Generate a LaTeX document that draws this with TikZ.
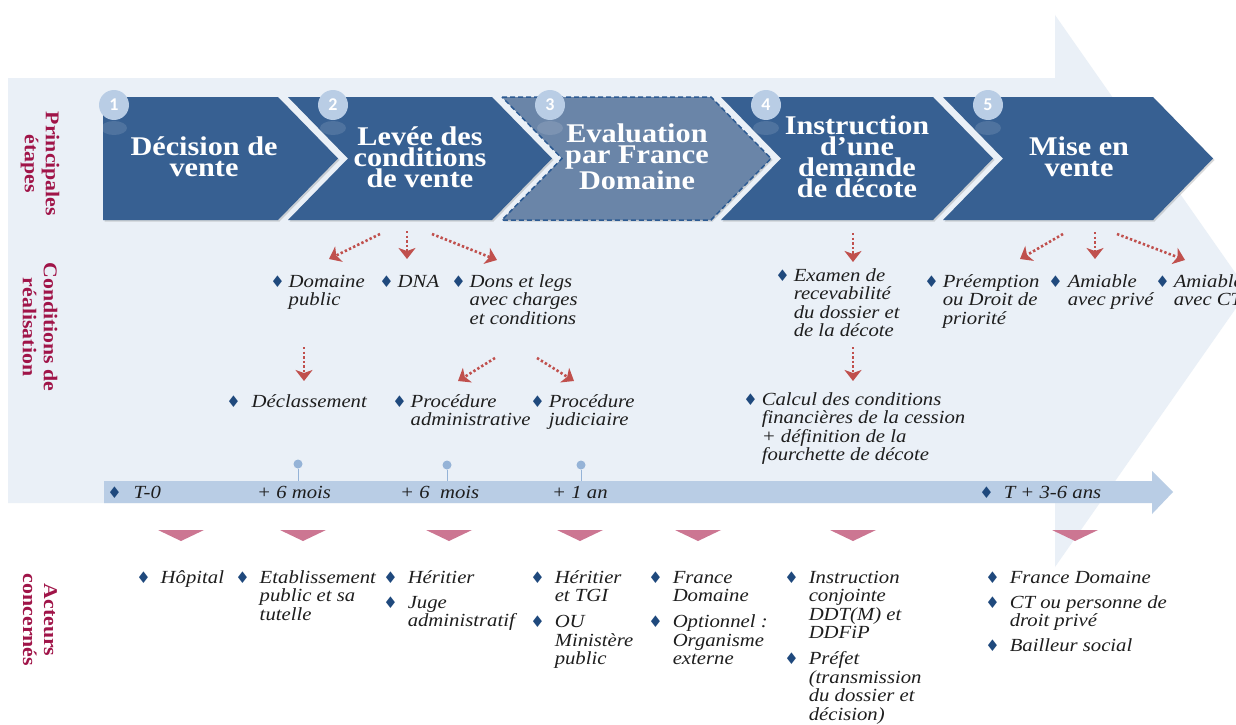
\documentclass[tikz,border=0pt]{standalone}
\usepackage{fontspec}
\setmainfont{Liberation Serif}[FakeStretch=1.12]
\newfontfamily\symfont{DejaVu Sans}
\newfontfamily\numfont{Carlito}
\usetikzlibrary{arrows.meta,shadows}

\definecolor{bgblue}{HTML}{EAF0F7}
\definecolor{chevblue}{HTML}{376092}
\definecolor{chevlight}{HTML}{6A85A8}
\definecolor{chevedge}{HTML}{2C5A92}
\definecolor{circblue}{HTML}{B9CDE5}
\definecolor{tlblue}{HTML}{B9CDE5}
\definecolor{pinblue}{HTML}{95B3D7}
\definecolor{arrred}{HTML}{C0504D}
\definecolor{actpink}{HTML}{CC7692}
\definecolor{lblred}{HTML}{A01448}
\definecolor{dmdblue}{HTML}{1F497D}
\definecolor{txtdark}{HTML}{1E1E1E}

\newcommand\chevfont{\fontsize{27}{21}\selectfont\bfseries}
\newcommand\txtfont{\fontsize{18.5}{18.5}\selectfont\itshape}
\newcommand\sidefont{\fontsize{19.5}{21}\selectfont\bfseries}
\newcommand\numstyle{\numfont\bfseries\fontsize{18}{18}\selectfont}
\newcommand\dmd{{\symfont\upshape\fontsize{16}{16}\selectfont\color{dmdblue}\char"2666}}
\newcommand\blist[2]{\begin{tabular}[t]{@{}l@{\hspace{#1}}l@{}}#2\end{tabular}}

\begin{document}
\begin{tikzpicture}[x=1pt,y=-1pt,
  chev/.style={fill=chevblue, drop shadow={shadow xshift=1.5pt, shadow yshift=-1.5pt, opacity=.3}},
  chevtext/.style={text=white, font=\chevfont, align=center, inner sep=0pt},
  stepnum/.style={circle, fill=circblue, text=white, font=\numstyle, minimum size=30pt, inner sep=0pt},
  sidelabel/.style={rotate=-90, align=center, font=\sidefont, text=lblred, inner sep=0pt},
  bul/.style={anchor=base west, inner sep=0pt, font=\txtfont, text=txtdark},
  condarrow/.style={draw=arrred, line width=2.6pt, dash pattern=on 2.4pt off 2.2pt,
    -{Stealth[length=11pt,width=17pt,inset=3pt]}},
  tlpin/.style={circle, fill=pinblue, minimum size=9pt, inner sep=0pt}]
\useasboundingbox (0,0) rectangle (1236,725);
\fill[white] (0,0) rectangle (1236,725);

% background arrow
\fill[bgblue] (8,78) -- (1055,78) -- (1055,15) -- (1248,291) -- (1055,567) -- (1055,503) -- (8,503) -- cycle;

% main steps
\fill[chev] (103,97) -- (278,97) -- (338,158.5) -- (278,220) -- (103,220) -- cycle;
\fill[chev] (288,97) -- (492,97) -- (552,158.5) -- (492,220) -- (288,220) -- (348,158.5) -- cycle;
\filldraw[fill=chevlight, draw=chevedge, line width=1.5pt, dash pattern=on 5pt off 3pt,
  drop shadow={shadow xshift=1.5pt, shadow yshift=-1.5pt, opacity=.3}]
  (502,97) -- (711,97) -- (771,158.5) -- (711,220) -- (502,220) -- (562,158.5) -- cycle;
\fill[chev] (721,97) -- (933,97) -- (993,158.5) -- (933,220) -- (721,220) -- (781,158.5) -- cycle;
\fill[chev] (943,97) -- (1153,97) -- (1213,158.5) -- (1153,220) -- (943,220) -- (1003,158.5) -- cycle;

\fill[white, opacity=.12] (114,128) ellipse (13pt and 7pt);
\fill[white, opacity=.12] (333,128) ellipse (13pt and 7pt);
\fill[white, opacity=.12] (550,128) ellipse (13pt and 7pt);
\fill[white, opacity=.12] (766,128) ellipse (13pt and 7pt);
\fill[white, opacity=.12] (988,128) ellipse (13pt and 7pt);
\node[stepnum] (n1) at (114,105) {1};
\node[stepnum] (n2) at (333,105) {2};
\node[stepnum] (n3) at (550,105) {3};
\node[stepnum] (n4) at (766,105) {4};
\node[stepnum] (n5) at (988,105) {5};

\node[chevtext] (dec) at (204,157) {Décision de\\vente};
\node[chevtext] (levee) at (420,157) {Levée des\\conditions\\de vente};
\node[chevtext] (eval) at (637,157) {Evaluation\\par France\\Domaine};
\node[chevtext] (instr) at (857,157) {Instruction\\d’une\\demande\\de décote};
\node[chevtext] (mise) at (1079,157) {Mise en\\vente};

% row labels
\node[sidelabel] (lblsteps) at (40,164) {Principales\\étapes};
\node[sidelabel] (lblcond) at (40,327) {Conditions de\\réalisation};
\node[sidelabel] (lblact) at (40,620) {Acteurs\\concernés};

% conditions
\node[bul] (dompub) at (270.2,287) {\blist{4pt}{\dmd & Domaine\\ & public}};
\node[bul] (dna) at (379.2,287) {\blist{4pt}{\dmd & DNA}};
\node[bul] (dons) at (451.2,287) {\blist{4pt}{\dmd & Dons et legs\\ & avec charges\\ & et conditions}};
\node[bul] (declass) at (226.2,407) {\blist{11pt}{\dmd & Déclassement}};
\node[bul] (procadm) at (392.2,407) {\blist{4pt}{\dmd & Procédure\\ & administrative}};
\node[bul] (procjud) at (530.2,407) {\blist{4pt}{\dmd & Procédure\\ & judiciaire}};
\node[bul] (examen) at (775.2,281) {\blist{4pt}{\dmd & Examen de\\ & recevabilité\\ & du dossier et\\ & de la décote}};
\node[bul] (calcul) at (743.2,405) {\blist{4pt}{\dmd & Calcul des conditions\\ & financières de la cession\\ & + définition de la\\ & fourchette de décote}};
\node[bul] (preempt) at (924.2,287) {\blist{4pt}{\dmd & Préemption\\ & ou Droit de\\ & priorité}};
\node[bul] (amprive) at (1048.2,287) {\blist{5pt}{\dmd & Amiable\\ & avec privé}};
\node[bul] (amct) at (1155.2,287) {\blist{4pt}{\dmd & Amiable\\ & avec CT}};

\coordinate (a1) at (380,234);  \coordinate (b1) at (329,259);
\coordinate (a2) at (407,231);  \coordinate (b2) at (407,259);
\coordinate (a3) at (432,234);  \coordinate (b3) at (497,260);
\coordinate (a4) at (304,347);  \coordinate (b4) at (304,381);
\coordinate (a5) at (495,358);  \coordinate (b5) at (458,381);
\coordinate (a6) at (537,358);  \coordinate (b6) at (574,381);
\coordinate (a7) at (853,233);  \coordinate (b7) at (853,262);
\coordinate (a8) at (853,347);  \coordinate (b8) at (853,381);
\coordinate (a9) at (1063,234); \coordinate (b9) at (1020,259);
\coordinate (a10) at (1095,232); \coordinate (b10) at (1095,259);
\coordinate (a11) at (1117,234); \coordinate (b11) at (1185,260);
\draw[condarrow] (a1) -- (b1);
\draw[condarrow] (a2) -- (b2);
\draw[condarrow] (a3) -- (b3);
\draw[condarrow] (a4) -- (b4);
\draw[condarrow] (a5) -- (b5);
\draw[condarrow] (a6) -- (b6);
\draw[condarrow] (a7) -- (b7);
\draw[condarrow] (a8) -- (b8);
\draw[condarrow] (a9) -- (b9);
\draw[condarrow] (a10) -- (b10);
\draw[condarrow] (a11) -- (b11);

% time line
\fill[tlblue] (104,481) -- (1152,481) -- (1152,471) -- (1173,492) -- (1152,514) -- (1152,503) -- (104,503) -- cycle;
\coordinate (bartop) at (0,481);
\node[tlpin] (pinA) at (298,464) {};
\node[tlpin] (pinB) at (447,465) {};
\node[tlpin] (pinC) at (581,465) {};
\draw[pinblue, line width=1pt] (pinA.south) -- (pinA.south |- bartop);
\draw[pinblue, line width=1pt] (pinB.south) -- (pinB.south |- bartop);
\draw[pinblue, line width=1pt] (pinC.south) -- (pinC.south |- bartop);
\node[bul] (tzero) at (107.2,498) {\blist{12pt}{\dmd & T-0}};
\node[bul] (sixA) at (257,498) {+ 6 mois};
\node[bul] (sixB) at (400,498) {+ 6\ \ mois};
\node[bul] (onean) at (552,498) {+ 1 an};
\node[bul] (tend) at (979.2,498) {\blist{10pt}{\dmd & T + 3-6 ans}};

% actors
\fill[actpink] (158,530) -- ++(46,0) -- ++(-23,11) -- cycle;
\fill[actpink] (280,530) -- ++(46,0) -- ++(-23,11) -- cycle;
\fill[actpink] (426,530) -- ++(46,0) -- ++(-23,11) -- cycle;
\fill[actpink] (557,530) -- ++(46,0) -- ++(-23,11) -- cycle;
\fill[actpink] (675,530) -- ++(46,0) -- ++(-23,11) -- cycle;
\fill[actpink] (830,530) -- ++(46,0) -- ++(-23,11) -- cycle;
\fill[actpink] (1052,530) -- ++(46,0) -- ++(-23,11) -- cycle;

\node[bul] (hop) at (136.2,583) {\blist{10pt}{\dmd & Hôpital}};
\node[bul] (etab) at (235.2,583) {\blist{10pt}{\dmd & Etablissement\\ & public et sa\\ & tutelle}};
\node[bul] (heritA) at (383.2,583) {\blist{10pt}{\dmd & Héritier\\[6.5pt] \dmd & Juge\\ & administratif}};
\node[bul] (heritB) at (530.2,583) {\blist{10pt}{\dmd & Héritier\\ & et TGI\\[7.5pt] \dmd & OU\\ & Ministère\\ & public}};
\node[bul] (frdom) at (648.2,583) {\blist{10pt}{\dmd & France\\ & Domaine\\[7.5pt] \dmd & Optionnel :\\ & Organisme\\ & externe}};
\node[bul] (ddt) at (784.2,583) {\blist{10pt}{\dmd & Instruction\\ & conjointe\\ & DDT(M) et\\ & DDFiP\\[7.5pt] \dmd & Préfet\\ & (transmission\\ & du dossier et\\ & décision)}};
\node[bul] (vente) at (985.2,583) {\blist{10pt}{\dmd & France Domaine\\[6.5pt] \dmd & CT ou personne de\\ & droit privé\\[6.5pt] \dmd & Bailleur social}};
\end{tikzpicture}
\end{document}
